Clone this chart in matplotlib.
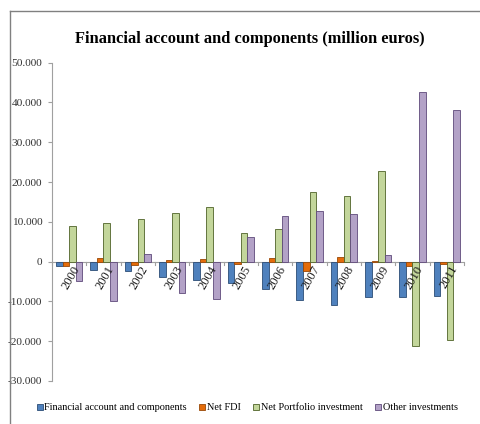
import numpy as np
import matplotlib
matplotlib.use("Agg")
import matplotlib.pyplot as plt
from matplotlib.lines import Line2D
from matplotlib.ticker import FuncFormatter

years = ["2000", "2001", "2002", "2003", "2004", "2005",
         "2006", "2007", "2008", "2009", "2010", "2011"]
financial_account = [-1200, -2100, -2400, -3950, -4500, -5300,
                     -6800, -9600, -10800, -9000, -9000, -8600]
net_fdi = [-1200, 900, -800, 400, 700, -700,
           900, -2400, 1250, 150, -1000, -700]
net_portfolio = [9000, 9600, 10700, 12100, 13700, 7300,
                 8200, 17400, 16600, 22900, -21100, -19700]
other_investments = [-4800, -10000, 1900, -7900, -9300, 6100,
                     11400, 12700, 12000, 1700, 42600, 38000]

series_names = ["Financial account and components", "Net FDI",
                "Net Portfolio investment", "Other investments"]
face_colors = ["#4F81BD", "#E46C0A", "#C3D69B", "#B3A2C7"]
edge_colors = ["#2C4D75", "#984807", "#4F6228", "#5F497A"]

plt.rcParams["font.family"] = ["Liberation Serif", "DejaVu Serif"]

fig = plt.figure(figsize=(4.8, 4.24), dpi=100)
ax = fig.add_axes([52 / 480, 1 - 381 / 424, 412 / 480, (381 - 62.7) / 424])

x = np.arange(len(years))
width = 0.19
offsets = (np.arange(4) - 1.5) * width
for vals, off, fc, ec, name in zip(
        [financial_account, net_fdi, net_portfolio, other_investments],
        offsets, face_colors, edge_colors, series_names):
    ax.bar(x + off, vals, width, color=fc, edgecolor=ec, linewidth=0.6,
           label=name, zorder=2)

ax.set_xlim(-0.5, len(years) - 0.5)
ax.set_ylim(-30000, 50000)
ax.set_yticks(np.arange(-30000, 50001, 10000))
ax.yaxis.set_major_formatter(FuncFormatter(
    lambda v, p: "0" if v == 0 else f"{int(v):,}".replace(",", ".")))
ax.tick_params(axis="y", labelsize=8.2, length=3, color="#A0A0A0", pad=4,
               labelcolor="#333333")

for s in ["top", "right", "bottom"]:
    ax.spines[s].set_visible(False)
ax.spines["left"].set_color("#A0A0A0")
ax.spines["left"].set_linewidth(0.8)

# category axis drawn at zero, with ticks between groups
ax.axhline(0, color="#A0A0A0", linewidth=0.8, zorder=1)
ax.set_xticks([])
for b in np.arange(-0.5, len(years), 1.0):
    ax.plot([b, b], [0, -900], color="#A0A0A0", linewidth=0.8,
            clip_on=False, zorder=1)
for xi, lab in zip(x, years):
    ax.text(xi + 0.08, -500, lab, rotation=60, ha="right", va="top",
            rotation_mode="anchor", fontsize=9, color="#1a1a1a", zorder=3)

fig.text(0.52, 1 - 39 / 424, "Financial account and components (million euros)",
         ha="center", va="center", fontsize=11.8, fontweight="bold")

leg = fig.legend(loc="center", bbox_to_anchor=(0.515, 1 - 408 / 424), ncol=4,
                 frameon=False, fontsize=7.4, handlelength=0.6, handleheight=0.6,
                 handletextpad=0.15, columnspacing=1.2)

# outer frame (left and top edges)
fig.add_artist(Line2D([10 / 480, 10 / 480], [0, 1 - 11 / 424],
                      transform=fig.transFigure, color="#808080", linewidth=1))
fig.add_artist(Line2D([10 / 480, 1], [1 - 11 / 424, 1 - 11 / 424],
                      transform=fig.transFigure, color="#808080", linewidth=1))

fig.savefig("out.png", dpi=100, facecolor="white")
